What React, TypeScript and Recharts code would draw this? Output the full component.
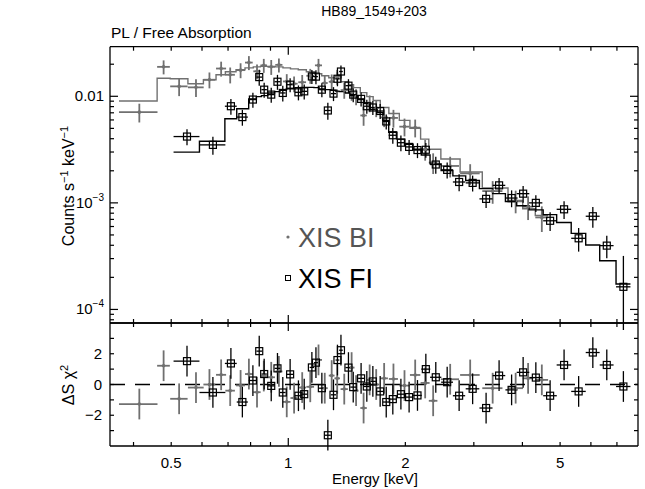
import React from 'react'
import { ComposedChart, Scatter, Line, XAxis, YAxis, ErrorBar, ReferenceLine } from 'recharts'

// XIS BI (grey dots): bin centre [keV], half width [keV], flux, relative error, model, residual
const biE = [0.414, 0.478, 0.524, 0.579, 0.627, 0.672, 0.709, 0.754, 0.792, 0.831, 0.865, 0.904, 0.946, 0.991, 1.035, 1.086, 1.139, 1.196, 1.241, 1.293, 1.336, 1.393, 1.455, 1.494, 1.562, 1.619, 1.683, 1.764, 1.864, 1.99, 2.12, 2.249, 2.358, 2.608, 2.936, 3.354, 3.843, 4.137, 4.487]
const biDE = [0.047, 0.018, 0.027, 0.027, 0.022, 0.02, 0.02, 0.02, 0.018, 0.018, 0.017, 0.02, 0.02, 0.022, 0.022, 0.025, 0.026, 0.025, 0.022, 0.022, 0.022, 0.03, 0.025, 0.022, 0.03, 0.027, 0.03, 0.04, 0.05, 0.06, 0.065, 0.06, 0.06, 0.14, 0.17, 0.2, 0.17, 0.13, 0.17]
const biFlux = [7.1e-3, 0.01889, 0.01239, 0.01213, 0.0143, 0.01822, 0.01592, 0.0176, 0.02072, 0.01716, 0.01951, 0.01889, 0.01972, 0.01379, 0.01313, 0.01355, 0.01558, 0.01951, 0.01332, 0.0137, 0.01525, 0.01142, 0.01094, 9.94e-3, 6.61e-3, 8.64e-3, 7.77e-3, 6.34e-3, 6.27e-3, 5.19e-3, 5.08e-3, 3.19e-3, 2.39e-3, 2.22e-3, 1.89e-3, 1.29e-3, 1.05e-3, 9.2e-4, 7.3e-4]
const biErr = [0.2, 0.15, 0.19, 0.19, 0.17, 0.16, 0.17, 0.16, 0.15, 0.16, 0.15, 0.16, 0.15, 0.17, 0.17, 0.17, 0.16, 0.15, 0.17, 0.17, 0.16, 0.17, 0.17, 0.17, 0.2, 0.18, 0.18, 0.19, 0.19, 0.19, 0.19, 0.22, 0.22, 0.22, 0.22, 0.24, 0.24, 0.25, 0.27]
const biModel = [9.02e-3, 0.01476, 0.01461, 0.01313, 0.0143, 0.01592, 0.01697, 0.01772, 0.01849, 0.01889, 0.0191, 0.0191, 0.01889, 0.01849, 0.0181, 0.01772, 0.01697, 0.01626, 0.01558, 0.01493, 0.01461, 0.0137, 0.01285, 0.01205, 0.01082, 9.94e-3, 9.12e-3, 7.85e-3, 6.9e-3, 5.94e-3, 5.01e-3, 3.96e-3, 3.19e-3, 2.58e-3, 1.95e-3, 1.38e-3, 1.03e-3, 8.8e-4, 7.6e-4]
const biRes = [-1.27, 1.22, -0.93, -0.2, 0.0, 0.63, -0.4, -0.06, 0.68, -0.5, 0.55, 0.47, 0.85, -1.13, -0.88, -0.2, -0.15, 1.6, -0.24, 0.58, 0.4, -0.3, 1.1, -0.4, -1.53, 0.3, 0.0, 0.4, 0.36, -0.07, 0.62, 0.1, -1.06, 0.34, 0.62, -0.24, -0.24, 0.4, 0.3]

// XIS FI (black squares)
const fiE = [0.549, 0.64, 0.712, 0.762, 0.811, 0.842, 0.867, 0.904, 0.938, 0.968, 1.011, 1.062, 1.099, 1.15, 1.178, 1.22, 1.264, 1.307, 1.338, 1.366, 1.428, 1.469, 1.539, 1.592, 1.65, 1.723, 1.786, 1.857, 1.948, 2.045, 2.149, 2.258, 2.395, 2.562, 2.75, 2.979, 3.226, 3.484, 3.752, 4.017, 4.331, 4.713, 5.119, 5.58, 6.069, 6.592, 7.273]
const fiDE = [0.042, 0.049, 0.025, 0.025, 0.02, 0.014, 0.014, 0.018, 0.016, 0.016, 0.022, 0.022, 0.02, 0.015, 0.014, 0.02, 0.022, 0.02, 0.015, 0.015, 0.025, 0.025, 0.027, 0.028, 0.03, 0.03, 0.035, 0.045, 0.045, 0.05, 0.055, 0.06, 0.08, 0.09, 0.1, 0.12, 0.125, 0.13, 0.135, 0.15, 0.17, 0.19, 0.22, 0.24, 0.25, 0.27, 0.31]
const fiFlux = [4.19e-3, 3.5e-3, 8.07e-3, 6.38e-3, 9.32e-3, 0.01514, 0.01154, 0.01037, 0.0137, 0.01075, 0.01285, 0.0109, 0.01113, 0.01535, 0.0153, 0.01154, 7.36e-3, 0.0106, 0.01461, 0.01708, 0.01258, 0.01037, 9.46e-3, 8.07e-3, 7.85e-3, 7.28e-3, 5.81e-3, 4.31e-3, 3.67e-3, 3.35e-3, 3.13e-3, 3.15e-3, 2.29e-3, 2.04e-3, 1.57e-3, 1.54e-3, 1.09e-3, 1.46e-3, 1.11e-3, 1.22e-3, 1.0e-3, 6.79e-4, 8.7e-4, 4.65e-4, 7.49e-4, 3.97e-4, 1.63e-4]
const fiErr = [0.17, 0.19, 0.17, 0.17, 0.16, 0.17, 0.16, 0.16, 0.16, 0.17, 0.15, 0.16, 0.16, 0.15, 0.15, 0.15, 0.18, 0.15, 0.15, 0.14, 0.15, 0.15, 0.15, 0.15, 0.15, 0.16, 0.16, 0.17, 0.17, 0.16, 0.16, 0.16, 0.18, 0.17, 0.18, 0.17, 0.18, 0.17, 0.18, 0.18, 0.18, 0.2, 0.19, 0.25, 0.22, 0.24, 0.95]
const fiModel = [2.99e-3, 3.79e-3, 6.16e-3, 7.63e-3, 9.46e-3, 9.94e-3, 0.01015, 0.01075, 0.01106, 0.01137, 0.01179, 0.01205, 0.01213, 0.01213, 0.01205, 0.01172, 0.01154, 0.01137, 0.01118, 0.01106, 0.01075, 0.01015, 9.32e-3, 8.55e-3, 7.52e-3, 7.05e-3, 5.94e-3, 4.6e-3, 3.96e-3, 3.55e-3, 3.19e-3, 2.81e-3, 2.32e-3, 2.01e-3, 1.79e-3, 1.62e-3, 1.36e-3, 1.22e-3, 1.03e-3, 9.4e-4, 8.6e-4, 7.76e-4, 6.55e-4, 5.17e-4, 4.02e-4, 2.86e-4, 1.73e-4]
const fiRes = [1.52, -0.52, 1.37, -1.14, 0.26, 2.17, 0.68, -0.09, 1.05, -0.52, 0.66, -0.73, -0.63, 1.11, 1.42, -0.24, -3.3, -0.67, 1.59, 2.23, 1.1, -0.17, 0.4, -0.13, 0.2, -0.45, -1.14, -0.95, -0.63, -0.82, -0.71, 1.0, 0.47, 0.15, -0.73, -0.28, -1.53, 0.58, -0.35, 0.79, 0.45, -0.73, 1.27, -0.45, 2.08, 1.27, -0.13]

// axes
const X_DOMAIN = [0.348, 7.93]
const X_TICKS = [0.4, 0.5, 0.6, 0.7, 0.8, 0.9, 1, 2, 3, 4, 5, 6, 7]
const X_LABELS = [0.5, 1, 2, 5]
const Y_DOMAIN = [7.46e-5, 0.0292]
const Y_TICKS = [8e-5, 9e-5, 1e-4, 2e-4, 3e-4, 4e-4, 5e-4, 6e-4, 7e-4, 8e-4, 9e-4, 1e-3, 2e-3, 3e-3, 4e-3, 5e-3, 6e-3, 7e-3, 8e-3, 9e-3, 0.01, 0.02]
const R_DOMAIN = [-4, 4]
const R_TICKS = [-3, -2, -1, 0, 1, 2, 3]
const R_LABELS = [-2, 0, 2]

const GREY = '#707070'

const toPoints = (e: number[], de: number[], f: number[], err: number[]) =>
  e.map((x, i) => ({ e: x, f: f[i], fe: f[i] * err[i], ex: de[i] }))
const toSteps = (e: number[], de: number[], m: number[]) => [
  ...e.map((x, i) => ({ e: x - de[i], m: m[i] })),
  { e: e[e.length - 1] + de[de.length - 1], m: m[m.length - 1] },
]
const toRes = (e: number[], de: number[], r: number[]) => e.map((x, i) => ({ e: x, r: r[i], re: 1, ex: de[i] }))

const biPts = toPoints(biE, biDE, biFlux, biErr)
const fiPts = toPoints(fiE, fiDE, fiFlux, fiErr)
const biStep = toSteps(biE, biDE, biModel)
const fiStep = toSteps(fiE, fiDE, fiModel)
const biResPts = toRes(biE, biDE, biRes)
const fiResPts = toRes(fiE, fiDE, fiRes)

const isDecade = (v: number) => Math.abs(Math.log10(v) - Math.round(Math.log10(v))) < 1e-6

// inward tick marks, labels only where wanted
const xTick = (dir: number, labels: boolean) => (p: any) => {
  const v = p.payload.value
  const len = v === 1 ? 8 : 4
  return (
    <g>
      <line x1={p.x} x2={p.x} y1={p.y} y2={p.y + dir * len} stroke="#000" strokeWidth={1.2} />
      {labels && X_LABELS.includes(v) ? (
        <text x={p.x} y={p.y + 22} textAnchor="middle" fontSize={15} fill="#000">
          {v}
        </text>
      ) : null}
    </g>
  )
}

const yLogTick = (dir: number, labels: boolean) => (p: any) => {
  const v = p.payload.value
  const major = isDecade(v)
  const len = major ? 8 : 4
  let label: React.ReactNode = null
  if (labels && major) {
    const exp = Math.round(Math.log10(v))
    label =
      exp === -2 ? (
        <text x={p.x - 6} y={p.y + 5} textAnchor="end" fontSize={15} fill="#000">
          0.01
        </text>
      ) : (
        <text x={p.x - 6} y={p.y + 5} textAnchor="end" fontSize={15} fill="#000">
          10
          <tspan dy={-7} fontSize={10}>
            {'\u2212' + String(-exp)}
          </tspan>
        </text>
      )
  }
  return (
    <g>
      <line x1={p.x} x2={p.x + dir * len} y1={p.y} y2={p.y} stroke="#000" strokeWidth={1.2} />
      {label}
    </g>
  )
}

const yResTick = (dir: number, labels: boolean) => (p: any) => {
  const v = p.payload.value
  return (
    <g>
      <line x1={p.x} x2={p.x + dir * 4} y1={p.y} y2={p.y} stroke="#000" strokeWidth={1.2} />
      {labels && R_LABELS.includes(v) ? (
        <text x={p.x - 8} y={p.y + 5} textAnchor="end" fontSize={15} fill="#000">
          {v < 0 ? '\u2212' + String(-v) : String(v)}
        </text>
      ) : null}
    </g>
  )
}

const Dot = (p: any) => <circle cx={p.cx} cy={p.cy} r={1.8} fill={GREY} />
const Square = (p: any) => (
  <rect x={p.cx - 3.5} y={p.cy - 3.5} width={7} height={7} fill="none" stroke="#000" strokeWidth={1.2} />
)

const axisLine = { stroke: '#000', strokeWidth: 1.3 }

export default function App() {
  return (
    <div
      style={{
        position: 'absolute',
        left: 0,
        top: 0,
        width: 645,
        height: 489,
        background: '#fff',
        fontFamily: '"Liberation Sans", Arial, Helvetica, sans-serif',
        overflow: 'hidden',
      }}
    >
      {/* spectrum panel: plot area x 110..638, y 46.7..323 */}
      <div style={{ position: 'absolute', left: 0, top: 0 }}>
        <ComposedChart width={645} height={330} margin={{ top: 45.7, right: 6, bottom: 6, left: 109 }}>
          <XAxis xAxisId="b" type="number" dataKey="e" scale="log" domain={X_DOMAIN} allowDataOverflow ticks={X_TICKS} interval={0} height={1} tickSize={0} tickMargin={0} tickLine={false} axisLine={axisLine} tick={xTick(-1, false)} />
          <XAxis xAxisId="t" orientation="top" type="number" dataKey="e" scale="log" domain={X_DOMAIN} allowDataOverflow ticks={X_TICKS} interval={0} height={1} tickSize={0} tickMargin={0} tickLine={false} axisLine={axisLine} tick={xTick(1, false)} />
          <YAxis yAxisId="l" type="number" scale="log" domain={Y_DOMAIN} allowDataOverflow ticks={Y_TICKS} interval={0} width={1} tickSize={0} tickMargin={0} tickLine={false} axisLine={axisLine} tick={yLogTick(1, true)} />
          <YAxis yAxisId="r" orientation="right" type="number" scale="log" domain={Y_DOMAIN} allowDataOverflow ticks={Y_TICKS} interval={0} width={1} tickSize={0} tickMargin={0} tickLine={false} axisLine={axisLine} tick={yLogTick(-1, false)} />
          <Scatter xAxisId="b" yAxisId="l" data={biPts} dataKey="f" shape={Dot} isAnimationActive={false}>
            <ErrorBar dataKey="fe" direction="y" width={0} stroke={GREY} strokeWidth={1.8} />
            <ErrorBar dataKey="ex" direction="x" width={0} stroke={GREY} strokeWidth={1.8} />
          </Scatter>
          <Line xAxisId="b" yAxisId="l" data={biStep} dataKey="m" type="stepAfter" stroke={GREY} strokeWidth={1.4} dot={false} activeDot={false} isAnimationActive={false} />
          <Scatter xAxisId="b" yAxisId="l" data={fiPts} dataKey="f" shape={Square} isAnimationActive={false}>
            <ErrorBar dataKey="fe" direction="y" width={0} stroke="#000" strokeWidth={1.3} />
            <ErrorBar dataKey="ex" direction="x" width={0} stroke="#000" strokeWidth={1.3} />
          </Scatter>
          <Line xAxisId="b" yAxisId="l" data={fiStep} dataKey="m" type="stepAfter" stroke="#000" strokeWidth={1.4} dot={false} activeDot={false} isAnimationActive={false} />
        </ComposedChart>
      </div>

      {/* residual panel: plot area x 110..638, y 323..446 */}
      <div style={{ position: 'absolute', left: 0, top: 0 }}>
        <ComposedChart width={645} height={489} margin={{ top: 322, right: 6, bottom: 42, left: 109 }}>
          <XAxis xAxisId="b" type="number" dataKey="e" scale="log" domain={X_DOMAIN} allowDataOverflow ticks={X_TICKS} interval={0} height={1} tickSize={0} tickMargin={0} tickLine={false} axisLine={axisLine} tick={xTick(-1, true)} />
          <XAxis xAxisId="t" orientation="top" type="number" dataKey="e" scale="log" domain={X_DOMAIN} allowDataOverflow ticks={X_TICKS} interval={0} height={1} tickSize={0} tickMargin={0} tickLine={false} axisLine={axisLine} tick={xTick(1, false)} />
          <YAxis yAxisId="l" type="number" domain={R_DOMAIN} allowDataOverflow ticks={R_TICKS} interval={0} width={1} tickSize={0} tickMargin={0} tickLine={false} axisLine={axisLine} tick={yResTick(1, true)} />
          <YAxis yAxisId="r" orientation="right" type="number" domain={R_DOMAIN} allowDataOverflow ticks={R_TICKS} interval={0} width={1} tickSize={0} tickMargin={0} tickLine={false} axisLine={axisLine} tick={yResTick(-1, false)} />
          <ReferenceLine xAxisId="b" yAxisId="l" y={0} stroke="#000" strokeWidth={1.3} strokeDasharray="15 10" />
          <Scatter xAxisId="b" yAxisId="l" data={biResPts} dataKey="r" shape={Dot} isAnimationActive={false}>
            <ErrorBar dataKey="re" direction="y" width={0} stroke={GREY} strokeWidth={1.8} />
            <ErrorBar dataKey="ex" direction="x" width={0} stroke={GREY} strokeWidth={1.8} />
          </Scatter>
          <Scatter xAxisId="b" yAxisId="l" data={fiResPts} dataKey="r" shape={Square} isAnimationActive={false}>
            <ErrorBar dataKey="re" direction="y" width={0} stroke="#000" strokeWidth={1.3} />
            <ErrorBar dataKey="ex" direction="x" width={0} stroke="#000" strokeWidth={1.3} />
          </Scatter>
        </ComposedChart>
      </div>

      {/* titles, axis labels, legend */}
      <svg width={645} height={489} style={{ position: 'absolute', left: 0, top: 0, pointerEvents: 'none' }}>
        <text x={374} y={16} textAnchor="middle" fontSize={14} fill="#000">
          HB89_1549+203
        </text>
        <text x={111} y={38} fontSize={15.5} fill="#000">
          PL / Free Absorption
        </text>
        <text transform="translate(74,186) rotate(-90)" textAnchor="middle" fontSize={16} fill="#000">
          Counts s<tspan dy={-6} fontSize={11}>{'\u22121'}</tspan>
          <tspan dy={6}> keV</tspan>
          <tspan dy={-6} fontSize={11}>{'\u22121'}</tspan>
        </text>
        <text transform="translate(74,385) rotate(-90)" textAnchor="middle" fontSize={16} fill="#000">
          {'\u0394S \u03c7'}
          <tspan dy={-6} fontSize={11}>2</tspan>
        </text>
        <text x={375} y={484} textAnchor="middle" fontSize={15} fill="#000">
          Energy [keV]
        </text>
        <circle cx={288} cy={237} r={1.6} fill={GREY} />
        <text x={298} y={246.5} fontSize={27} fill="#555">
          XIS BI
        </text>
        <rect x={285.5} y={275.5} width={5} height={5} fill="none" stroke="#000" strokeWidth={1} />
        <text x={298} y={287.5} fontSize={27} fill="#000">
          XIS FI
        </text>
      </svg>
    </div>
  )
}
